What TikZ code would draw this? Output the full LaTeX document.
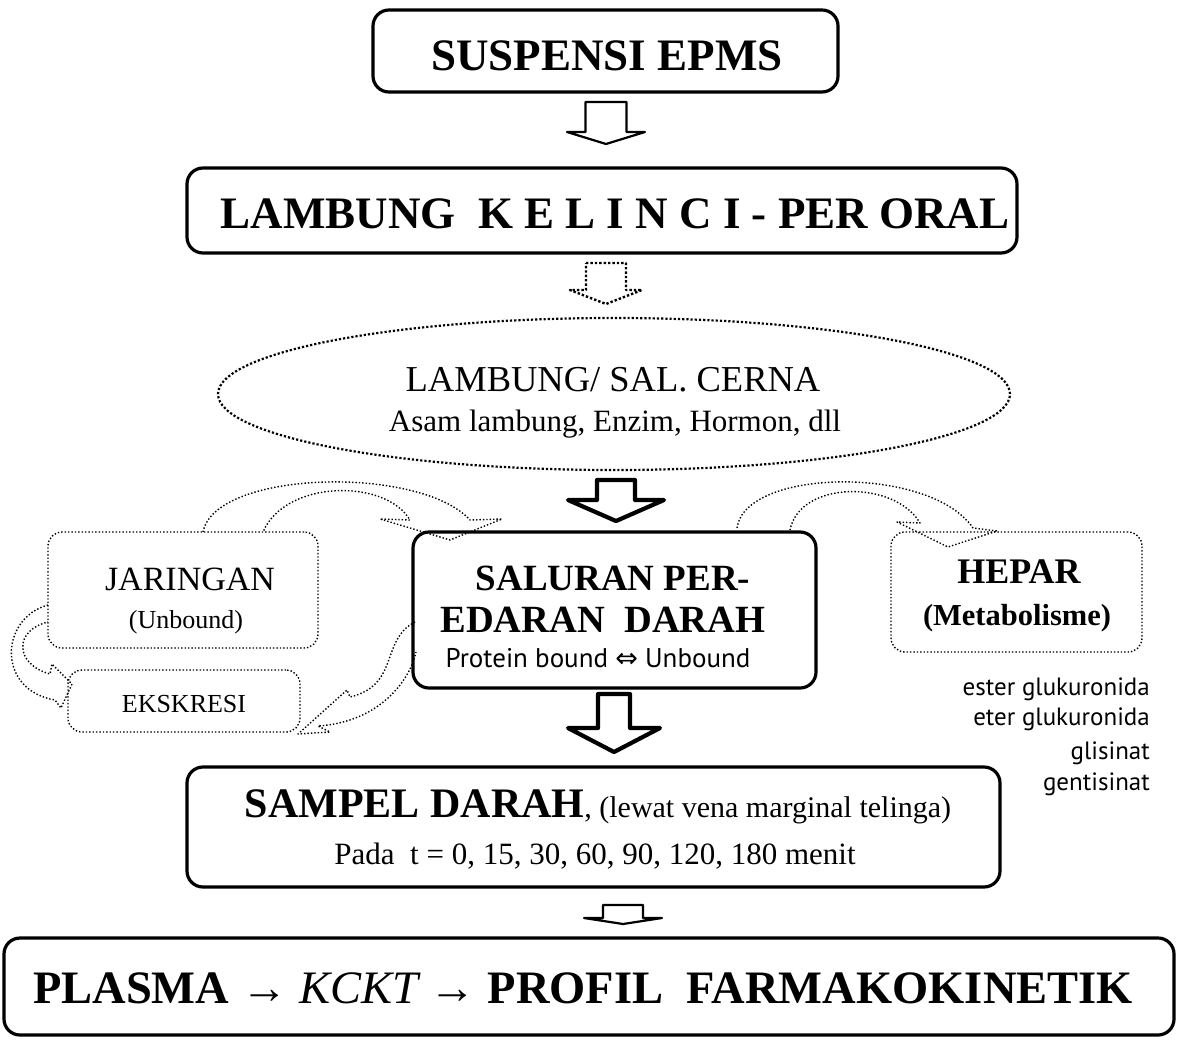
\documentclass[tikz,border=0pt]{standalone}
\usepackage{fontspec}
\setmainfont{Liberation Serif}
\newfontfamily\optima{PT Sans}
\newfontfamily\dejavu{DejaVu Sans}
\usetikzlibrary{shapes.geometric,calc}
\newcommand{\blkarrow}[7]{%
  \draw[#1] ({#2-#4},#3) -- ({#2+#4},#3) -- ({#2+#4},#5) -- ({#2+#6},#5)
    -- (#2,#7) -- ({#2-#6},#5) -- ({#2-#4},#5) -- cycle;}
\begin{document}
\begin{tikzpicture}[x=1pt,y=-1pt,
  solidbox/.style={draw, line width=3.2, rounded corners=16, inner sep=0},
  dotbox/.style={draw, dotted, line width=1.4, rounded corners=14, inner sep=0},
  lbl/.style={anchor=base, inner sep=0},
  curvearrow/.style={draw, dotted, line width=1.4, line join=round},
  thinblk/.style={draw, line width=2.2, line join=round},
  dotblk/.style={draw, dotted, line width=2.4, line join=round},
  thickblk/.style={draw, line width=4.2, line join=round}]
\useasboundingbox (0,0) rectangle (1177,1039);

% frames
\node[solidbox, minimum width=465, minimum height=82] (susp) at (605.5,51) {};
\node[solidbox, minimum width=830, minimum height=85] (lamb) at (602,210.5) {};
\node[draw, dotted, line width=2.2, ellipse, minimum width=792, minimum height=152, inner sep=0] (cerna) at (614,394) {};
\node[solidbox, minimum width=403, minimum height=156] (salur) at (614.5,610) {};
\node[dotbox, minimum width=270, minimum height=116] (jar) at (183,590) {};
\node[dotbox, minimum width=232, minimum height=62] (eks) at (184,701) {};
\node[dotbox, minimum width=251, minimum height=120] (hep) at (1016.5,592) {};
\node[solidbox, minimum width=813, minimum height=120] (samp) at (593.5,827) {};
\node[solidbox, minimum width=1170, minimum height=97] (plas) at (589,986.5) {};

% texts
\node[lbl] (t1) at (607,70) {\fontsize{45}{50}\selectfont\bfseries SUSPENSI EPMS};
\node[lbl] (t2) at (615,228) {\fontsize{45}{50}\selectfont\bfseries LAMBUNG~~K E L I N C I - PER ORAL};
\node[lbl] (t3) at (613,391) {\fontsize{36.5}{40}\selectfont LAMBUNG/ SAL. CERNA};
\node[lbl] (t4) at (615,431) {\fontsize{31}{34}\selectfont Asam lambung, Enzim, Hormon, dll};
\node[lbl] (t5) at (613,590) {\fontsize{37}{42}\selectfont\bfseries SALURAN PER-};
\node[lbl] (t6) at (603,632) {\fontsize{38.5}{42}\selectfont\bfseries EDARAN~~DARAH};
\node[lbl] (t7) at (598,667) {\fontsize{27}{30}\selectfont\optima Protein bound {\dejavu ⇔} Unbound};
\node[lbl] (t8) at (190,590) {\fontsize{34}{40}\selectfont JARINGAN};
\node[lbl] (t9) at (186,628) {\fontsize{26}{30}\selectfont (Unbound)};
\node[lbl] (t10) at (184,712) {\fontsize{26}{30}\selectfont EKSKRESI};
\node[lbl] (t11) at (1019,583) {\fontsize{36}{40}\selectfont\bfseries HEPAR};
\node[lbl] (t12) at (1017,625) {\fontsize{30.5}{34}\selectfont\bfseries (Metabolisme)};
\node[anchor=base east, inner sep=0] (m1) at (1150,695) {\fontsize{25}{28}\selectfont\optima ester glukuronida};
\node[anchor=base east, inner sep=0] (m2) at (1150,725) {\fontsize{25}{28}\selectfont\optima eter glukuronida};
\node[anchor=base east, inner sep=0] (m3) at (1150,759) {\fontsize{25}{28}\selectfont\optima glisinat};
\node[anchor=base east, inner sep=0] (m4) at (1150,790) {\fontsize{25}{28}\selectfont\optima gentisinat};
\node[lbl] (t13) at (598,817) {\fontsize{42}{46}\selectfont\textbf{SAMPEL DARAH}\fontsize{30}{34}\selectfont, (lewat vena marginal telinga)};
\node[lbl] (t14) at (595,864) {\fontsize{31}{34}\selectfont Pada~~t = 0, 15, 30, 60, 90, 120, 180 menit};
\node[lbl] (t15) at (583,1003) {\fontsize{46.5}{50}\selectfont\bfseries PLASMA → {\mdseries\itshape KCKT} → PROFIL~~FARMAKOKINETIK};

% block arrows
\blkarrow{thinblk}{606}{102}{20.5}{132}{39}{144}
\blkarrow{dotblk}{606}{263}{20}{290}{36}{304}
\blkarrow{thickblk}{616}{480}{19}{500}{48}{521}
\blkarrow{thickblk}{614}{694}{16}{728}{46}{752}
\blkarrow{thinblk}{623}{905}{20}{918}{39}{924}

% curved hollow arrows
% Jaringan -> Saluran
\draw[curvearrow] (203,532) .. controls (215,470) and (420,465) .. (470,520)
  -- (502,519) -- (450,540) -- (380,519) -- (410,520)
  .. controls (385,478) and (285,480) .. (263,532);
% Saluran -> Hepar
\draw[curvearrow] (737,528) .. controls (745,468) and (930,465) .. (973,528)
  -- (997,531) -- (948,547) -- (897,522) -- (920,523)
  .. controls (895,480) and (800,480) .. (790,530);
% Jaringan -> Ekskresi (left)
\draw[curvearrow] (48,605) .. controls (0,618) and (-4,690) .. (55,700)
  -- (61,708) -- (72,684) -- (52,664) -- (50,674)
  .. controls (14,664) and (14,630) .. (48,622);
% Saluran -> Ekskresi
\draw[curvearrow] (415,622) .. controls (380,640) and (400,685) .. (350,697)
  -- (347,690) -- (298,734) -- (330,732) -- (318,726)
  .. controls (380,722) and (410,680) .. (416,652);
\end{tikzpicture}
\end{document}
